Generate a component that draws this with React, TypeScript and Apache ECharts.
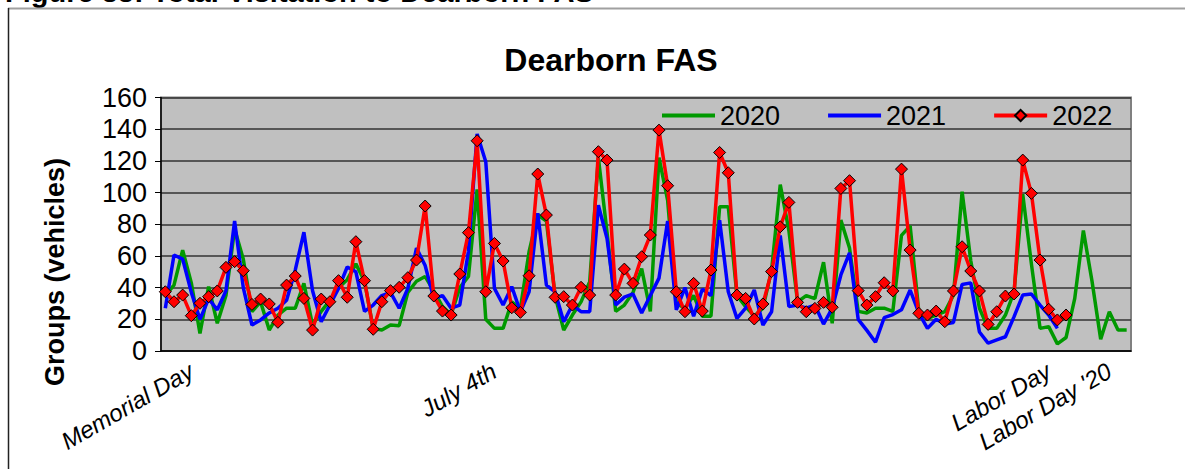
import React, { useEffect, useRef } from 'react';
import * as echarts from 'echarts';

// Day index within the season (112 days shown)
const categories: string[] = Array.from({ length: 112 }, (_, i) => `Day ${i + 1}`);

// Holiday tick labels and the day index they sit on
const tickLabelIndex: number[] = [3, 38, 102, 109];
const tickLabelText: string[] = ['Memorial Day', 'July 4th', 'Labor Day', "Labor Day '20"];

const yTicks: number[] = [0, 20, 40, 60, 80, 100, 120, 140, 160];

const series2020: number[] = [
  35, 41.6, 63.7, 43, 11.1, 40.6, 17.5, 35, 77, 58,
  24.8, 31, 13.2, 22.7, 27, 27, 42.7, 16.4, 25, 32,
  40, 45, 55, 44, 14.3, 13.2, 16.4, 16, 37, 44,
  47, 38, 28, 23, 40, 47, 102, 20, 14.3, 14.3,
  31, 27, 62.7, 86, 82, 35, 13.2, 22.7, 31, 43.7,
  122, 75, 25, 29, 37, 52, 25, 122, 95, 30,
  27, 35, 22, 22, 91, 91, 35, 28, 22, 27,
  51, 105, 76, 31, 35, 33, 56, 17.5, 82.6, 65,
  25, 24, 27, 27, 25, 73, 79, 25, 20.6, 22.7,
  24.8, 35.3, 100.5, 57, 27, 14.3, 14.3, 22.7, 37.4, 99,
  55, 14.3, 15.4, 4.5, 8.5, 33, 76, 44, 7.5, 24.8,
  13.2, 13.2,
];

const series2021: number[] = [
  27, 60.6, 58, 37, 20, 33, 26, 38, 82, 40,
  16.4, 19.6, 24, 27, 32, 51, 75, 38, 18.5, 29,
  39.5, 53, 50, 25, 29, 35, 37, 27, 39.5, 65,
  54, 33, 35, 27, 29, 63, 137, 119.5, 39.5, 29,
  40.6, 24.8, 37.4, 87, 41.6, 37.4, 18.5, 29, 24.8, 24.8,
  92, 71, 29, 34, 36, 24, 35, 46, 82, 26,
  40, 22, 39, 35, 82.6, 37.4, 20.6, 27, 38.5, 16.4,
  24.8, 73, 28, 29, 27, 29, 17, 27, 48, 62,
  20, 13, 5.5, 21, 23, 26, 38.5, 24, 14.3, 20,
  17, 18, 42, 43, 12, 5, 7, 9, 21.7, 35.3,
  36, 29, 22.7, 14.3,
];

const series2022: number[] = [
  37.4, 31.1, 35.3, 22.3, 30.1, 34.3, 37.9, 52.8, 56.4, 50.7,
  29.4, 32.8, 29.7, 18.1, 41.6, 47.3, 33.2, 13.2, 32.8, 31.1,
  44.4, 33.9, 69.0, 44.4, 13.7, 31.1, 38.1, 40.2, 46.3, 57.4,
  91.5, 34.7, 25.2, 22.7, 48.6, 74.7, 132.7, 37.4, 67.9, 56.8,
  27.3, 24.4, 47.5, 111.7, 85.8, 33.9, 34.3, 29.0, 40.2, 35.3,
  125.8, 120.5, 35.3, 51.7, 42.7, 59.5, 73.2, 139.4, 104.3, 37.4,
  24.8, 42.7, 25.2, 51.1, 125.3, 112.5, 35.3, 33.2, 20.2, 29.7,
  50.1, 78.4, 93.8, 30.7, 24.8, 26.9, 30.7, 27.6, 102.6, 107.5,
  38.1, 29.0, 34.3, 43.1, 37.9, 114.8, 63.7, 23.8, 22.7, 25.2,
  18.5, 37.9, 65.8, 50.5, 37.9, 16.8, 24.8, 34.7, 36.0, 120.5,
  99.5, 57.4, 26.3, 19.6, 22.7,
];

const FONT = '"Liberation Sans", Arial, Helvetica, sans-serif';

export default function App() {
  const ref = useRef<HTMLDivElement>(null);

  useEffect(() => {
    if (!ref.current) return;
    const chart = echarts.init(ref.current, undefined, { renderer: 'svg' });
    const labelMap: Record<number, string> = {};
    tickLabelIndex.forEach((idx, k) => {
      labelMap[idx] = tickLabelText[k];
    });

    const option: any = {
      animation: false,
      backgroundColor: '#ffffff',
      graphic: [
        {
          type: 'text',
          left: 5,
          top: -23,
          style: {
            text: 'Figure 33: Total Visitation to Dearborn FAS',
            font: `bold 29px ${FONT}`,
            fill: '#000',
          },
          z: 1,
        },
        {
          type: 'line',
          shape: { x1: 8, y1: 8.5, x2: 1185, y2: 8.5 },
          style: { stroke: '#a0a0a0', lineWidth: 2 },
          z: 2,
        },
        {
          type: 'line',
          shape: { x1: 8.5, y1: 8, x2: 8.5, y2: 469 },
          style: { stroke: '#222', lineWidth: 1.5 },
          z: 2,
        },
        {
          type: 'text',
          x: 611,
          y: 60,
          style: {
            text: 'Dearborn FAS',
            font: `bold 32px ${FONT}`,
            fill: '#000',
            textAlign: 'center',
            textVerticalAlign: 'middle',
          },
        },
        {
          type: 'text',
          x: 55,
          y: 272,
          rotation: Math.PI / 2,
          style: {
            text: 'Groups (vehicles)',
            font: `bold 27px ${FONT}`,
            fill: '#000',
            textAlign: 'center',
            textVerticalAlign: 'middle',
          },
        },
      ],
      legend: {
        data: [
          { name: '2020', itemStyle: { opacity: 0 } },
          { name: '2021', itemStyle: { opacity: 0 } },
          { name: '2022' },
        ],
        left: 655,
        top: 97,
        itemWidth: 53,
        itemHeight: 14,
        itemGap: 46,
        lineStyle: { width: 4 },
        textStyle: { fontFamily: FONT, fontSize: 27, color: '#000' },
      },
      grid: {
        left: 161,
        right: 54,
        top: 97.5,
        bottom: 118,
        show: true,
        backgroundColor: '#c0c0c0',
        borderColor: '#808080',
        borderWidth: 2,
        outerBoundsMode: 'none',
      },
      xAxis: {
        type: 'category',
        data: categories,
        boundaryGap: true,
        axisLine: { lineStyle: { color: '#000', width: 1.5 } },
        axisTick: { show: false },
        splitLine: { show: false },
        axisLabel: {
          interval: 0,
          rotate: 30,
          margin: 18,
          fontFamily: FONT,
          fontStyle: 'italic',
          fontSize: 24,
          color: '#000',
          formatter: (_v: string, i: number) => labelMap[i] ?? '',
        },
      },
      yAxis: {
        type: 'value',
        min: yTicks[0],
        max: yTicks[yTicks.length - 1],
        interval: yTicks[1] - yTicks[0],
        axisLine: { show: true, lineStyle: { color: '#000', width: 1.5 } },
        axisTick: { show: true, length: 6, lineStyle: { color: '#000' } },
        axisLabel: { fontFamily: FONT, fontSize: 27, color: '#000', margin: 14 },
        splitLine: { show: true, lineStyle: { color: '#333', width: 1.5 } },
      },
      series: [
        {
          name: '2020',
          type: 'line',
          data: series2020,
          symbol: 'none',
          lineStyle: { color: '#009900', width: 3.5 },
          itemStyle: { color: '#009900' },
          z: 2,
        },
        {
          name: '2021',
          type: 'line',
          data: series2021,
          symbol: 'none',
          lineStyle: { color: '#0000ff', width: 3.5 },
          itemStyle: { color: '#0000ff' },
          z: 3,
        },
        {
          name: '2022',
          type: 'line',
          data: series2022,
          symbol: 'diamond',
          symbolSize: 12,
          showAllSymbol: true,
          lineStyle: { color: '#ff0000', width: 3.5 },
          itemStyle: { color: '#ff0000', borderColor: '#000', borderWidth: 1 },
          z: 4,
        },
      ],
    };
    chart.setOption(option);
    return () => chart.dispose();
  }, []);

  return (
    <div
      ref={ref}
      style={{ position: 'fixed', left: 0, top: 0, width: 1185, height: 469 }}
    />
  );
}
